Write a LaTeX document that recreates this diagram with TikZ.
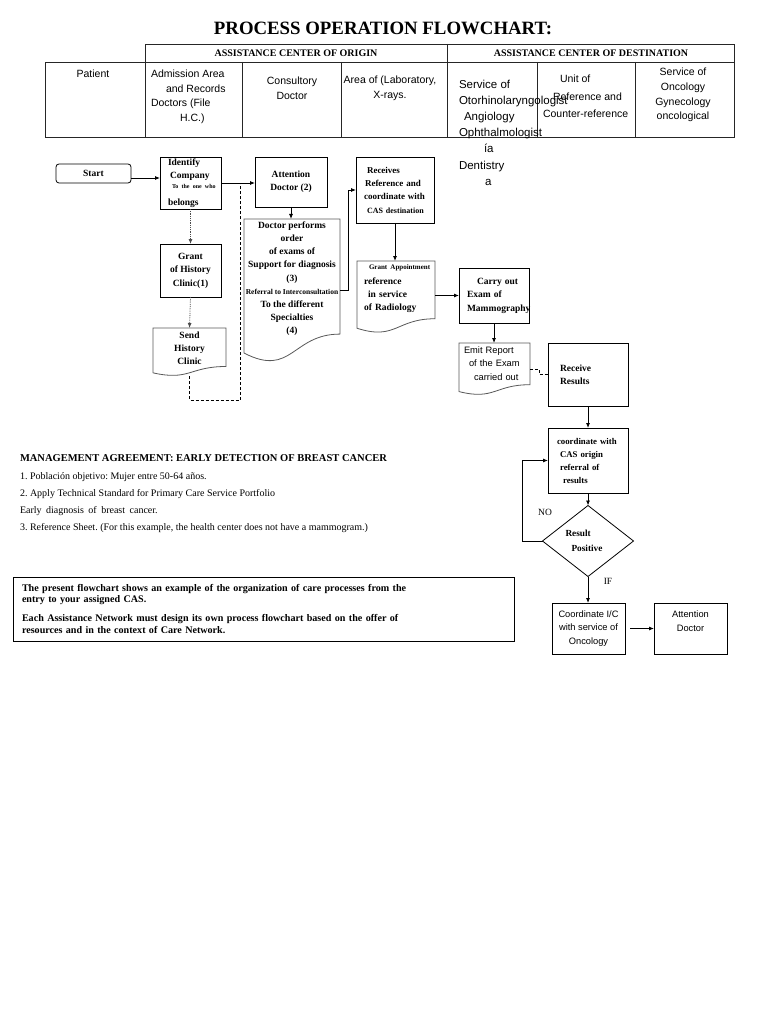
\documentclass[tikz,border=0pt]{standalone}
\usepackage{fontspec}
\setmainfont{Liberation Serif}
\newfontfamily\arialf{Liberation Sans}
\usetikzlibrary{arrows.meta,calc,shapes.geometric}
\frenchspacing
\newcommand\fs[2]{\fontsize{#1}{#2}\selectfont}
\newcommand\docoutline[1]{\draw[docline] (#1.north west) -- (#1.north east) -- ($(#1.north east)!0.802!(#1.south east)$) .. controls ($(#1.north)!0.802!(#1.south)$) and ($(#1.north)!1.107!(#1.south)$) .. ($(#1.north west)!0.934!(#1.south west)$) -- cycle;}
\begin{document}
\begin{tikzpicture}[x=1pt,y=-1pt,
  every node/.style={inner sep=0pt, outer sep=0pt},
  tline/.style={draw=black!85, line width=0.8pt},
  fbox/.style={draw, line width=0.8pt, font=\bfseries\fs{9.5}{13}},
  docnode/.style={font=\bfseries\fs{9.5}{13}},
  docline/.style={draw=black!65, line width=0.8pt},
  cell/.style={font=\arialf\fs{10.5}{14.5}},
  arr/.style={-{Latex[length=5pt,width=4pt]}, line width=0.8pt},
  dotarr/.style={-{Latex[length=5pt,width=4pt]}, line width=0.8pt, black!70, densely dotted},
  dashline/.style={line width=0.8pt, dash pattern=on 3pt off 2pt}
]
\fill[white] (0,0) rectangle (768,1024);
\useasboundingbox (0,0) rectangle (768,1024);

% title
\node[font=\bfseries\fs{18.8}{20}] (title) at (383,28.5) {PROCESS OPERATION FLOWCHART:};

% table
\draw[tline] (145,44) rectangle (734,62);
\draw[tline] (447,44) -- (447,62);
\draw[tline] (45,62) rectangle (734,137);
\foreach \xx in {145,242,341,447,537,635} \draw[tline] (\xx,62) -- (\xx,137);
\node[font=\bfseries\fs{10}{12}] (hOrig) at (296,53) {ASSISTANCE CENTER OF ORIGIN};
\node[font=\bfseries\fs{10}{12}] (hDest) at (591,53) {ASSISTANCE CENTER OF DESTINATION};

\node[cell] (cPat) at (93,74) {Patient};
\node[cell, anchor=north west, align=left] (cAdm) at (151,70.2) {Admission Area\\\hspace*{15pt}and Records\\Doctors (File\\\hspace*{29pt}H.C.)};
\node[cell, align=center, font=\arialf\fs{10.5}{15}] (cCons) at (292,88.5) {Consultory\\Doctor};
\node[cell, align=center, font=\arialf\fs{10.5}{15}] (cArea) at (390,88.5) {Area of (Laboratory,\\X-rays.};
\node[cell, anchor=north west, align=left, font=\arialf\fs{11.5}{16.2}] (cServ) at (459,79.7) {Service of\\Otorhinolaryngologist\\\hspace*{5pt}Angiology\\Ophthalmologist\\\hspace*{25pt}ía\\Dentistry\\\hspace*{26pt}a};
\node[cell, anchor=north west, align=left, font=\arialf\fs{10.5}{17.5}] (cUnit) at (543,75.2) {\hspace*{17pt}Unit of\\\hspace*{10pt}Reference and\\Counter-reference};
\node[cell, align=center, font=\arialf\fs{10.5}{14.7}] (cOnc) at (683,95) {Service of\\Oncology\\Gynecology\\oncological};

% flowchart nodes
\node[fbox, rounded corners=3pt, minimum width=75pt, minimum height=19pt] (start) at (93.5,173.5) {Start};
\node[fbox, minimum width=61pt, minimum height=52pt, text width=45pt, inner xsep=8pt, align=left, font=\bfseries\fs{9.5}{10}] (ident) at (190.5,183) {\mbox{Identify}\\[3.3pt]\hspace*{2pt}\mbox{Company}\\[-0.5pt]\hspace*{4pt}\mbox{\fs{6}{7}To the one who}\\[7pt]\mbox{belongs}};
\node[fbox, minimum width=72pt, minimum height=50pt, align=center] (attn) at (291,182) {Attention\\Doctor (2)};
\node[docnode, minimum width=96pt, minimum height=143.5pt, align=center, font=\bfseries\fs{9.5}{13.1}] (docp) at (292,290.75) {Doctor performs\\order\\of exams of\hspace*{30pt}\\Support for diagnosis\hspace*{8pt}\\(3)\\{\fs{7.5}{9}Referral to Interconsultation}\\To the different\hspace*{8pt}\\Specialties\hspace*{25pt}\\(4)\\[13pt]\mbox{}};
\node[fbox, minimum width=78pt, minimum height=66pt, text width=62pt, inner xsep=8pt, align=left, font=\bfseries\fs{9}{13.3}] (recv) at (395,190) {\hspace*{3pt}\mbox{Receives}\\\hspace*{1pt}\mbox{Reference and}\\\mbox{coordinate with}\\\hspace*{3pt}\mbox{\fs{8}{9}CAS destination}};
\node[docnode, minimum width=78pt, minimum height=72pt, text width=64pt, inner xsep=7pt, align=left] (grant) at (396,297) {\hspace*{5pt}\mbox{\fs{7}{8}Grant Appointment}\\[2pt]\mbox{reference}\\\hspace*{4pt}\mbox{in service}\\\mbox{of Radiology}\\[6pt]\mbox{}};
\node[fbox, minimum width=70pt, minimum height=55pt, text width=54pt, inner xsep=8pt, align=left, font=\bfseries\fs{9.5}{13.5}] (carry) at (494,295.5) {\hspace*{10pt}\mbox{Carry out}\\\mbox{Exam of}\\\mbox{Mammography}};
\node[docnode, font=\arialf\fs{9.3}{13.5}, minimum width=71pt, minimum height=52pt, text width=61pt, inner xsep=5pt, align=left] (emit) at (494.5,369) {\mbox{Emit Report}\\\hspace*{5pt}\mbox{of the Exam}\\\hspace*{10pt}\mbox{carried out}\\[-2.5pt]\mbox{}};
\node[fbox, minimum width=80pt, minimum height=63pt, text width=56pt, inner xsep=12pt, align=left] (result) at (588,374.5) {Receive\\Results};
\node[fbox, minimum width=80pt, minimum height=65pt, text width=62pt, inner xsep=9pt, align=left, font=\bfseries\fs{8.8}{13}] (coord) at (588,460.5) {\mbox{coordinate with}\\\hspace*{3pt}\mbox{CAS origin}\\\hspace*{3pt}\mbox{referral of}\\\hspace*{6pt}\mbox{results}};
\node[draw, line width=0.8pt, shape=diamond, minimum width=91pt, minimum height=71pt, align=left, font=\bfseries\fs{9.3}{15}] (dia) at (588,541) {Result\\\hspace*{6pt}Positive\hspace*{8pt}};
\node[fbox, font=\arialf\fs{9.3}{13.5}, minimum width=73pt, minimum height=51pt, align=center] (onc) at (588.5,628.5) {Coordinate I/C\\with service of\\Oncology};
\node[fbox, font=\arialf\fs{9.3}{14}, minimum width=73pt, minimum height=51pt, align=center] (attn2) at (690.5,628.5) {Attention\\Doctor\\[1pt]\mbox{}};
\node[fbox, minimum width=61pt, minimum height=53pt, align=center, font=\bfseries\fs{9.5}{13.5}] (ghc) at (190.5,270.5) {Grant\\of History\\Clinic(1)};
\node[docnode, minimum width=73pt, minimum height=48pt, align=center] (send) at (189.5,352) {Send\\History\\Clinic\\[-5pt]\mbox{}};

\docoutline{docp}
\docoutline{grant}
\docoutline{send}
\docoutline{emit}

\node[font=\fs{9.5}{11}] (no) at (545,512) {NO};
\node[font=\fs{9.5}{11}] (if) at (608,581) {IF};

% connectors
\coordinate (jn) at (240,183);
\draw[arr] ([yshift=-4.5pt]start.east) -- ([yshift=-4.5pt]start.east -| ident.west);
\draw[arr] (ident.east) -- (ident.east -| attn.west);
\draw[dotarr] (ident.south) -- (ghc.north);
\draw[dotarr] (ghc.south) -- (send.north);
\draw[dashline] (send.south) -- ++(0,24) -| (jn);
\draw[arr] (attn.south) -- (attn.south |- docp.north);
\draw[arr] (docp.east) -- ++(8,0) |- (recv.west);
\draw[arr] (recv.south) -- (recv.south |- grant.north);
\draw[arr] (carry.west -| grant.east) -- (carry.west);
\draw[arr] (carry.south) -- (carry.south |- emit.north);
\draw[dashline] (emit.east) -- ++(9,0) |- (result.west);
\draw[arr] (result.south) -- (coord.north);
\draw[arr] (coord.south) -- (dia.north);
\draw[arr] (dia.west) -- ++(-20,0) |- (coord.west);
\draw[arr] (dia.south) -- (dia.south |- onc.north);
\draw[arr] ([xshift=5pt]onc.east) -- (attn2.west);

% management text
\node[anchor=north west, align=left, font=\fs{10}{17}] (mgmt) at (20,454.6) {{\bfseries\fs{10.5}{12}MANAGEMENT AGREEMENT: EARLY DETECTION OF BREAST CANCER}\\[1pt]1. Población objetivo: Mujer entre 50-64 años.\\2. Apply Technical Standard for Primary Care Service Portfolio\\Early\hspace{2pt} diagnosis\hspace{2pt} of\hspace{2pt} breast\hspace{2pt} cancer.\\3. Reference Sheet. (For this example, the health center does not have a mammogram.)};

\node[draw, line width=1pt, minimum width=501pt, minimum height=64pt, text width=483pt, inner xsep=9pt, align=left, font=\bfseries\fs{10.1}{11.5}] (note) at (263.5,609) {The present flowchart shows an example of the organization of care processes from the\\entry to your assigned CAS.\\[7.5pt]Each Assistance Network must design its own process flowchart based on the offer of\\resources and in the context of Care Network.};
\end{tikzpicture}
\end{document}
